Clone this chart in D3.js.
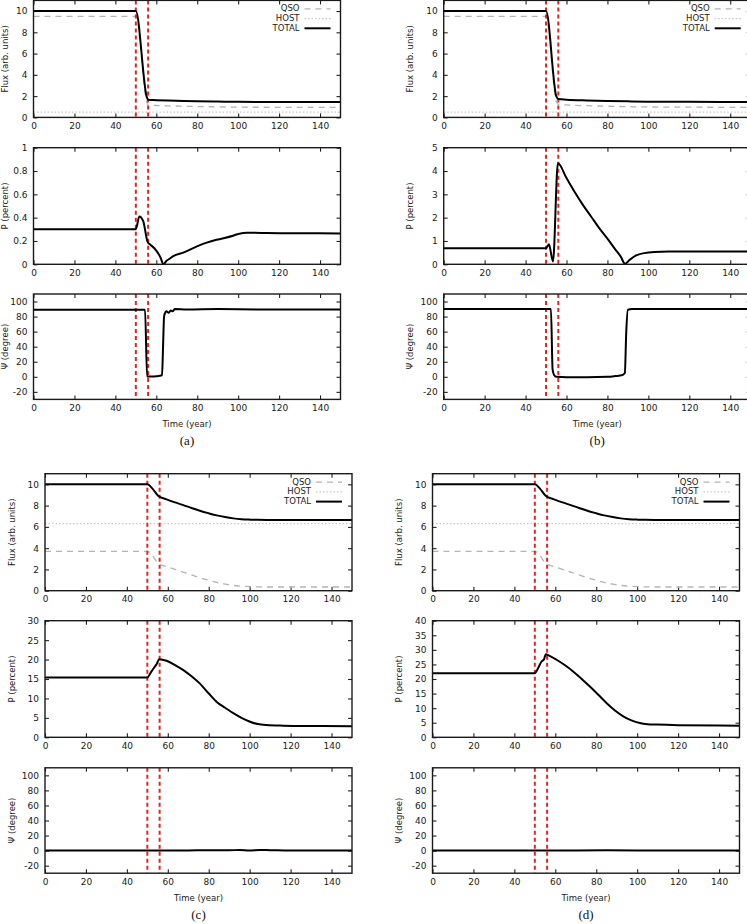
<!DOCTYPE html>
<html>
<head>
<meta charset="utf-8">
<script src="https://cdn.jsdelivr.net/npm/d3@7"></script>
<style>
  body { margin: 0; background: #fff; }
  svg { display: block; }
</style>
</head>
<body>
<script>
var WIDTH = 747, HEIGHT = 924;

// ---- shared axes ----
var xTicks = [0, 20, 40, 60, 80, 100, 120, 140];
var fluxTicks = [0, 2, 4, 6, 8, 10];
var psiTicks = [-20, 0, 20, 40, 60, 80, 100];
var eventTimes = [50, 56];
var legendNames = ['QSO', 'HOST', 'TOTAL'];

// ---- panel (a) ----
var tFluxA = [0, 50, 55.3, 56, 60, 70, 80, 90, 100, 120, 150];
var qsoA = [9.5, 9.5, 1.45, 1.15, 1.12, 1.07, 1.02, 0.99, 0.96, 0.95, 0.94];
var totalA = [10, 10, 1.95, 1.65, 1.62, 1.57, 1.52, 1.49, 1.46, 1.45, 1.44];
var tHostA = [0, 150];
var hostA = [0.5, 0.5];
var pTicksA = [0, 0.2, 0.4, 0.6, 0.8, 1];
var tPA = [0, 50, 51.7, 53.6, 55.8, 57, 59.9, 62, 63.5, 65, 66.7, 68.3, 73.2, 81.3, 89.4, 97.5, 99.1, 104, 108, 113.7, 130, 150];
var pA = [0.3, 0.3, 0.41, 0.37, 0.19, 0.17, 0.12, 0.06, 0.0, 0.03, 0.05, 0.07, 0.1, 0.165, 0.21, 0.245, 0.255, 0.27, 0.27, 0.268, 0.266, 0.265];
var tPsiA = [0, 54.5, 55.5, 58, 60, 62.8, 63.3, 63.8, 64.5, 65, 66, 67, 68, 69, 75, 90, 110, 150];
var psiA = [89, 89, 0.5, 0.5, 0.8, 2, 40, 80, 86, 87, 85, 88, 87, 90, 89.5, 90, 89.5, 89.5];

// ---- panel (b) ----
var tFluxB = [0, 50, 55, 56, 60, 70, 80, 90, 100, 120, 150];
var qsoB = [9.5, 9.5, 1.5, 1.22, 1.17, 1.1, 1.05, 1.01, 0.98, 0.96, 0.94];
var totalB = [10, 10, 2.0, 1.72, 1.67, 1.6, 1.55, 1.51, 1.48, 1.46, 1.44];
var tHostB = [0, 150];
var hostB = [0.5, 0.5];
var pTicksB = [0, 1, 2, 3, 4, 5];
var tPB = [0, 50, 51.4, 53.4, 55.8, 60, 64, 68, 72, 76, 80, 84, 86.5, 88.6, 91, 94, 98, 103, 110, 150];
var pB = [0.69, 0.69, 0.86, 0.12, 4.33, 3.7, 3.1, 2.55, 2.05, 1.55, 1.1, 0.62, 0.33, 0.02, 0.2, 0.38, 0.48, 0.53, 0.55, 0.55];
var tPsiB = [0, 52.4, 53.2, 54, 55, 60, 70, 80, 84, 87, 88.5, 89.2, 90, 92, 150];
var psiB = [90, 90, 10, 2, 0, -0.5, -0.5, 0, 1, 2, 5, 60, 89, 90, 90];

// ---- panel (c) ----
var tFluxC = [0, 50, 52.4, 55.4, 59.4, 63.5, 67.6, 71.6, 75.7, 79.8, 83.9, 88, 92, 96, 100.2, 104, 108.3, 120, 150];
var totalC = [10, 10, 9.62, 8.9, 8.59, 8.3, 8.05, 7.78, 7.52, 7.29, 7.08, 6.92, 6.8, 6.72, 6.68, 6.66, 6.65, 6.65, 6.65];
var qsoC = [3.7, 3.7, 3.32, 2.55, 2.27, 2.0, 1.75, 1.48, 1.22, 0.99, 0.78, 0.62, 0.5, 0.42, 0.38, 0.36, 0.35, 0.35, 0.35];
var tHostC = [0, 150];
var hostC = [6.3, 6.3];
var pTicksC = [0, 5, 10, 15, 20, 25, 30];
var tPC = [0, 50, 51.5, 53, 54.5, 55.8, 59.4, 63.5, 67.6, 71.6, 75.7, 79.8, 83.9, 88, 92, 96, 100.2, 104, 108.3, 116.5, 130, 150];
var pC = [15.4, 15.4, 16.5, 17.7, 18.8, 20.1, 19.7, 18.6, 17.3, 15.7, 13.8, 11.4, 9.1, 7.6, 6.2, 5.0, 4.0, 3.4, 3.15, 3.0, 2.9, 2.85];
var tPsiC = [0, 50, 70, 80, 90, 95, 100, 105, 110, 120, 150];
var psiC = [0, 0, 0.2, 0.5, 0.5, 0.8, 0.3, 0.8, 0.6, 0.2, 0];

// ---- panel (d) ----
var tFluxD = [0, 50, 52.4, 55.4, 59.4, 63.5, 67.6, 71.6, 75.7, 79.8, 83.9, 88, 92, 96, 100.2, 104, 108.3, 120, 150];
var totalD = [10, 10, 9.62, 8.9, 8.59, 8.3, 8.05, 7.78, 7.52, 7.29, 7.08, 6.92, 6.8, 6.72, 6.68, 6.66, 6.65, 6.65, 6.65];
var qsoD = [3.7, 3.7, 3.32, 2.55, 2.27, 2.0, 1.75, 1.48, 1.22, 0.99, 0.78, 0.62, 0.5, 0.42, 0.38, 0.36, 0.35, 0.35, 0.35];
var tHostD = [0, 150];
var hostD = [6.3, 6.3];
var pTicksD = [0, 5, 10, 15, 20, 25, 30, 35, 40];
var tPD = [0, 50, 51.5, 53.3, 54.5, 55.4, 56.5, 60.6, 64.6, 68.7, 72.8, 76.9, 81, 85, 89, 93.2, 97.2, 101.3, 105, 109.4, 120, 150];
var pD = [22, 22, 23.6, 26, 26.8, 28.5, 28.2, 26.6, 24.8, 22.6, 20.1, 17.4, 14.6, 11.8, 9.3, 7.2, 5.8, 4.9, 4.5, 4.35, 4.15, 4.0];
var tPsiD = [0, 50, 70, 85, 100, 120, 150];
var psiD = [0, 0, 0.2, 0.4, 0.3, 0.1, 0];

// layout
var PLOT_W = 307;
var FLUX_H = 117, P_H = 116.6, PSI_H = 105.4;
var TICK_LEN = 4;
var FONT = 'DejaVu Sans, sans-serif';
var RED = '#e8221f';

var zip = function (t, v) { return t.map(function (d, i) { return [d, v[i]]; }); };

var panels = [
    { cap: '(a)', left: 33.5, tops: [0.4, 147.7, 294], labelDx: -28,
      flux: { qso: zip(tFluxA, qsoA), host: zip(tHostA, hostA), total: zip(tFluxA, totalA) },
      pDomain: [0, 1], pTicks: pTicksA, p: zip(tPA, pA), psi: zip(tPsiA, psiA) },
    { cap: '(b)', left: 443.7, tops: [0.4, 147.7, 294], labelDx: -33,
      flux: { qso: zip(tFluxB, qsoB), host: zip(tHostB, hostB), total: zip(tFluxB, totalB) },
      pDomain: [0, 5], pTicks: pTicksB, p: zip(tPB, pB), psi: zip(tPsiB, psiB) },
    { cap: '(c)', left: 45, tops: [473.7, 620.7, 767.8], labelDx: -33,
      flux: { qso: zip(tFluxC, qsoC), host: zip(tHostC, hostC), total: zip(tFluxC, totalC) },
      pDomain: [0, 30], pTicks: pTicksC, p: zip(tPC, pC), psi: zip(tPsiC, psiC) },
    { cap: '(d)', left: 432.5, tops: [473.7, 620.7, 767.8], labelDx: -33,
      flux: { qso: zip(tFluxD, qsoD), host: zip(tHostD, hostD), total: zip(tFluxD, totalD) },
      pDomain: [0, 40], pTicks: pTicksD, p: zip(tPD, pD), psi: zip(tPsiD, psiD) }
];

var svg = d3.select('body').append('svg').attr('width', WIDTH).attr('height', HEIGHT);
var defs = svg.append('defs');
var clipId = 0;

var styles = {
    qso: { stroke: '#b4b4b4', width: 1.3, dash: '6,5' },
    host: { stroke: '#c8c8c8', width: 1.3, dash: '1.5,2' },
    total: { stroke: '#000', width: 2, dash: null }
};

function subplot(left, top, h, yDomain, yTicks, yLabel, labelDx) {
    var g = svg.append('g').attr('transform', 'translate(' + left + ',' + top + ')');
    var x = d3.scaleLinear().domain([0, 150]).range([0, PLOT_W]);
    var y = d3.scaleLinear().domain(yDomain).range([h, 0]);

    var id = 'clip' + (clipId++);
    defs.append('clipPath').attr('id', id).append('rect').attr('width', PLOT_W).attr('height', h);

    // ticks inside, mirrored like gnuplot
    g.append('g').attr('transform', 'translate(0,' + h + ')')
        .call(d3.axisBottom(x).tickValues(xTicks).tickSizeInner(-TICK_LEN).tickSizeOuter(0).tickPadding(5).tickFormat(String));
    g.append('g').call(d3.axisTop(x).tickValues(xTicks).tickSizeInner(-TICK_LEN).tickSizeOuter(0).tickFormat(''));
    g.append('g')
        .call(d3.axisLeft(y).tickValues(yTicks).tickSizeInner(-TICK_LEN).tickSizeOuter(0).tickPadding(6).tickFormat(String));
    g.append('g').attr('transform', 'translate(' + PLOT_W + ',0)')
        .call(d3.axisRight(y).tickValues(yTicks).tickSizeInner(-TICK_LEN).tickSizeOuter(0).tickFormat(''));
    g.selectAll('.domain').remove();
    g.selectAll('.tick line').attr('stroke', '#222').attr('stroke-width', 1.1);
    g.selectAll('.tick text').attr('font-family', FONT).attr('font-size', 9).attr('fill', '#1a1a1a');

    g.append('text')
        .attr('transform', 'translate(' + labelDx + ',' + (h / 2) + ') rotate(-90)')
        .attr('text-anchor', 'middle')
        .attr('dominant-baseline', 'middle')
        .attr('font-family', FONT).attr('font-size', 8.5).attr('fill', '#222')
        .text(yLabel);

    var plot = g.append('g').attr('clip-path', 'url(#' + id + ')');

    return { g: g, plot: plot, x: x, y: y, h: h };
}

function drawLine(sp, data, st) {
    var line = d3.line()
        .x(function (d) { return sp.x(d[0]); })
        .y(function (d) { return sp.y(d[1]); })
        .curve(d3.curveMonotoneX);
    sp.plot.append('path')
        .datum(data)
        .attr('fill', 'none')
        .attr('stroke', st.stroke)
        .attr('stroke-width', st.width)
        .attr('stroke-dasharray', st.dash)
        .attr('stroke-linejoin', 'round')
        .attr('d', line);
}

function drawEvents(sp) {
    sp.plot.selectAll('line.event')
        .data(eventTimes)
        .enter().append('line')
        .attr('class', 'event')
        .attr('x1', sp.x).attr('x2', sp.x)
        .attr('y1', 0).attr('y2', sp.h)
        .attr('stroke', RED)
        .attr('stroke-width', 2)
        .attr('stroke-dasharray', '4,3');
}

function frame(sp) {
    sp.g.append('rect')
        .attr('width', PLOT_W).attr('height', sp.h)
        .attr('fill', 'none').attr('stroke', '#1a1a1a').attr('stroke-width', 1.4);
}

panels.forEach(function (pn) {
    // flux
    var f = subplot(pn.left, pn.tops[0], FLUX_H, [0, 11], fluxTicks, 'Flux (arb. units)', pn.labelDx);
    drawLine(f, pn.flux.host, styles.host);
    drawLine(f, pn.flux.qso, styles.qso);
    drawEvents(f);
    drawLine(f, pn.flux.total, styles.total);
    frame(f);

    var leg = f.g.append('g');
    legendNames.forEach(function (name, i) {
        var key = name.toLowerCase();
        var yy = 8.5 + i * 9.7;
        leg.append('text')
            .attr('x', PLOT_W - 41).attr('y', yy)
            .attr('text-anchor', 'end').attr('dominant-baseline', 'middle')
            .attr('font-family', FONT).attr('font-size', 8.5).attr('fill', '#222')
            .text(name);
        leg.append('line')
            .attr('x1', PLOT_W - 36).attr('x2', PLOT_W - 10)
            .attr('y1', yy).attr('y2', yy)
            .attr('stroke', styles[key].stroke)
            .attr('stroke-width', styles[key].width)
            .attr('stroke-dasharray', styles[key].dash);
    });

    // polarisation degree
    var p = subplot(pn.left, pn.tops[1], P_H, pn.pDomain, pn.pTicks, 'P (percent)', pn.labelDx);
    drawEvents(p);
    drawLine(p, pn.p, styles.total);
    frame(p);

    // polarisation angle
    var s = subplot(pn.left, pn.tops[2], PSI_H, [-30, 110], psiTicks, 'Ψ (degree)', pn.labelDx);
    drawEvents(s);
    drawLine(s, pn.psi, styles.total);
    frame(s);

    s.g.append('text')
        .attr('x', PLOT_W / 2).attr('y', PSI_H + 25)
        .attr('text-anchor', 'middle').attr('dominant-baseline', 'middle')
        .attr('font-family', FONT).attr('font-size', 8.5).attr('fill', '#222')
        .text('Time (year)');

    s.g.append('text')
        .attr('x', PLOT_W / 2).attr('y', PSI_H + 43)
        .attr('text-anchor', 'middle').attr('dominant-baseline', 'middle')
        .attr('font-family', 'Liberation Serif, serif').attr('font-size', 13).attr('fill', '#111')
        .text(pn.cap);
});
</script>
</body>
</html>
